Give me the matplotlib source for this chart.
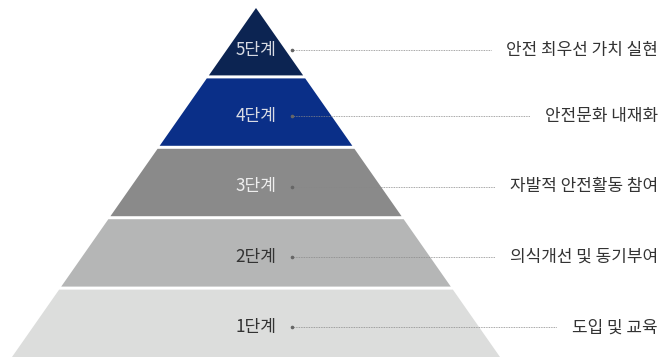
import matplotlib
matplotlib.use("Agg")
import matplotlib.pyplot as plt
from matplotlib.patches import Polygon

plt.rcParams['font.family'] = ['Noto Sans CJK KR', 'DejaVu Sans']

stages = ['5단계', '4단계', '3단계', '2단계', '1단계']
descriptions = ['안전 최우선 가치 실현', '안전문화 내재화', '자발적 안전활동 참여',
                '의식개선 및 동기부여', '도입 및 교육']
fill_colors = ['#0c2452', '#0a2f88', '#8a8a8a', '#b5b6b6', '#dcdddc']
stage_text_colors = ['#d8dbe4', '#d8dbe4', '#eeeeee', '#333333', '#333333']

fig = plt.figure(figsize=(6.6, 3.57), dpi=100)
ax = fig.add_axes([0, 0, 1, 1])
ax.set_xlim(0, 660)
ax.set_ylim(357, 0)
ax.axis('off')

apex_x, apex_y = 256, 8
base_y = 357
slope = 244 / (base_y - apex_y)  # half-width per pixel of height
gap = 3
band = (base_y - apex_y + gap) / len(stages)

renderer = fig.canvas.get_renderer()
for i, stage in enumerate(stages):
    top = apex_y + i * band
    bottom = top + band - gap
    wt = slope * (top - apex_y)
    wb = slope * (bottom - apex_y)
    pts = [(apex_x - wt, top), (apex_x + wt, top), (apex_x + wb, bottom), (apex_x - wb, bottom)]
    ax.add_patch(Polygon(pts, closed=True, facecolor=fill_colors[i], edgecolor='none'))

    # labels sit a little below the band centre (more so in the apex triangle)
    yc = (top + bottom) / 2 + (8 if i == 0 else 4)
    ax.text(apex_x, yc, stage, ha='center', va='center', fontsize=12.3,
            fontweight='light', color=stage_text_colors[i])

    t = ax.text(658, yc, descriptions[i], ha='right', va='center', fontsize=12.2,
                fontweight='light', color='#333333')
    bb = t.get_window_extent(renderer)
    x_end = bb.x0 - 15
    ax.plot([292, x_end], [yc, yc], color='#888888', lw=0.6, ls=(0, (1, 1)))
    ax.plot([292], [yc], marker='o', ms=1.6, color='#666666')

plt.savefig('out.png', dpi=100)
plt.close()
